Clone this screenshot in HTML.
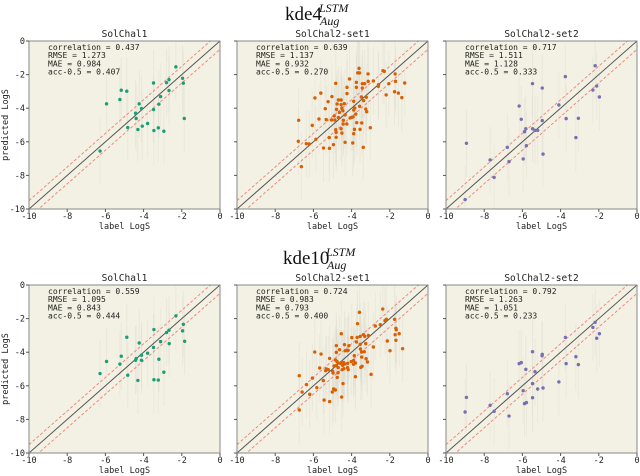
<!DOCTYPE html>
<html><head><meta charset="utf-8">
<style>
html,body{margin:0;padding:0;background:#fff;}
svg{display:block;}
.mono{font-family:"DejaVu Sans Mono","Liberation Mono",monospace;}
.serif{font-family:"Liberation Serif",serif;}
</style></head>
<body>
<svg id="chart" width="640" height="476" xmlns="http://www.w3.org/2000/svg">
  <g class="serif" fill="#111">
    <text x="285" y="20" font-size="19">kde4</text>
    <text x="319" y="12" font-size="12" font-style="italic">LSTM</text>
    <text x="320" y="25" font-size="12" font-style="italic">Aug</text>
  </g>
  <g class="serif" fill="#111">
    <text x="283" y="264" font-size="19">kde10</text>
    <text x="326" y="256" font-size="12" font-style="italic">LSTM</text>
    <text x="327" y="269" font-size="12" font-style="italic">Aug</text>
  </g>
</svg>
<script>
const panelTitles = ["SolChal1","SolChal2-set1","SolChal2-set2","SolChal1","SolChal2-set1","SolChal2-set2"];
const statCorrelation = ["0.437","0.639","0.717","0.559","0.724","0.792"];
const statRMSE = ["1.273","1.137","1.511","1.095","0.983","1.263"];
const statMAE = ["0.984","0.932","1.128","0.843","0.793","1.051"];
const statAcc = ["0.407","0.270","0.333","0.444","0.400","0.233"];
const tickValues = [-10,-8,-6,-4,-2,0];
const tickLabels = ["-10","-8","-6","-4","-2","0"];
const seriesColors = ["#1b9e77","#d95f02","#7570b3","#1b9e77","#d95f02","#7570b3"];

const kde4SolChal1 = [[-2.31,-1.54],[-2.67,-2.30],[-2.80,-2.48],[-1.96,-2.22],[-1.92,-2.51],[-3.48,-2.50],[-2.67,-2.95],[-3.11,-3.31],[-3.20,-3.76],[-3.48,-4.08],[-4.23,-3.74],[-4.11,-4.02],[-4.42,-4.30],[-4.39,-4.61],[-3.79,-4.91],[-4.07,-5.07],[-4.83,-5.15],[-4.30,-5.27],[-3.46,-5.33],[-3.23,-5.17],[-2.94,-5.37],[-5.17,-2.93],[-4.88,-2.99],[-5.24,-3.49],[-5.94,-3.74],[-1.87,-4.61],[-6.28,-6.55]];
const kde4Set1 = [[-3.61,-1.63],[-3.65,-1.90],[-3.68,-1.90],[-3.58,-1.90],[-3.14,-1.96],[-2.36,-1.77],[-2.29,-1.81],[-1.72,-1.96],[-4.11,-2.26],[-4.83,-2.52],[-3.75,-2.46],[-3.44,-2.54],[-3.32,-2.54],[-3.13,-2.40],[-2.86,-2.38],[-2.59,-2.60],[-2.05,-2.54],[-1.70,-2.40],[-1.22,-2.50],[-4.24,-2.76],[-3.75,-2.76],[-3.44,-2.80],[-2.60,-2.70],[-1.75,-3.02],[-1.55,-3.10],[-2.19,-3.21],[-1.37,-3.37],[-5.61,-3.10],[-5.92,-3.39],[-5.03,-3.31],[-4.24,-3.13],[-4.69,-3.51],[-4.55,-3.51],[-5.23,-3.61],[-4.38,-3.73],[-4.76,-3.75],[-4.55,-3.79],[-4.51,-3.99],[-3.89,-3.59],[-3.49,-3.33],[-3.23,-3.35],[-3.37,-3.55],[-5.38,-4.03],[-4.79,-4.07],[-4.46,-4.15],[-3.89,-4.11],[-3.84,-3.99],[-3.58,-3.89],[-3.26,-4.05],[-3.21,-4.21],[-4.91,-4.46],[-4.64,-4.25],[-4.69,-4.56],[-4.34,-4.40],[-4.08,-4.58],[-3.99,-4.54],[-3.92,-4.52],[-5.71,-4.64],[-5.33,-4.68],[-5.05,-4.70],[-4.88,-4.70],[-4.43,-4.72],[-3.78,-4.35],[-3.73,-4.86],[-3.47,-4.88],[-6.77,-4.72],[-6.06,-5.02],[-4.44,-4.94],[-4.25,-4.94],[-4.83,-5.28],[-4.55,-5.22],[-4.81,-5.44],[-4.51,-5.48],[-3.85,-5.26],[-3.89,-5.52],[-3.56,-5.26],[-3.02,-5.16],[-5.17,-5.75],[-4.81,-5.73],[-5.87,-5.85],[-6.37,-6.11],[-6.22,-6.13],[-4.95,-6.17],[-4.34,-6.03],[-3.94,-6.07],[-3.39,-6.33],[-5.47,-6.37],[-5.16,-6.39],[-6.79,-5.97],[-6.63,-7.48]];
const kde4Set2 = [[-2.19,-1.47],[-3.75,-2.12],[-5.47,-2.54],[-4.96,-2.80],[-2.31,-2.92],[-2.11,-2.68],[-1.97,-3.33],[-4.09,-3.81],[-6.17,-3.87],[-6.06,-4.66],[-4.96,-4.74],[-3.71,-4.62],[-3.07,-4.60],[-5.82,-5.22],[-5.89,-5.40],[-5.47,-5.22],[-5.34,-5.32],[-5.20,-5.32],[-3.20,-5.75],[-8.93,-6.09],[-6.79,-6.33],[-5.79,-6.23],[-5.96,-7.02],[-4.92,-6.73],[-7.69,-7.08],[-6.70,-7.18],[-7.48,-8.12],[-9.00,-9.44]];
const kde10SolChal1 = [[-2.31,-1.84],[-1.92,-2.34],[-1.96,-2.73],[-1.85,-3.35],[-2.67,-2.69],[-2.80,-2.83],[-2.66,-3.49],[-3.11,-3.37],[-3.46,-2.65],[-3.48,-3.72],[-3.79,-4.06],[-4.23,-3.45],[-4.11,-4.18],[-4.11,-4.48],[-4.39,-4.38],[-4.42,-4.48],[-3.20,-4.42],[-2.94,-5.19],[-3.46,-5.64],[-3.23,-5.66],[-4.30,-5.68],[-4.83,-5.37],[-4.88,-3.11],[-5.17,-4.24],[-5.24,-4.71],[-5.94,-4.55],[-6.28,-5.27]];
const kde10Set1 = [[-2.37,-1.43],[-3.59,-1.63],[-2.25,-2.12],[-2.18,-2.04],[-1.75,-2.04],[-2.50,-2.36],[-3.69,-2.30],[-1.68,-2.58],[-1.66,-2.66],[-2.76,-2.44],[-3.38,-2.96],[-3.31,-3.06],[-3.55,-3.06],[-3.12,-3.00],[-4.54,-2.90],[-3.99,-3.13],[-3.71,-3.12],[-3.74,-3.39],[-1.51,-2.90],[-1.72,-2.96],[-1.68,-3.29],[-2.13,-3.33],[-1.33,-3.79],[-1.99,-3.91],[-4.80,-3.61],[-4.37,-3.55],[-4.14,-3.61],[-4.23,-3.91],[-4.18,-3.89],[-3.55,-3.53],[-3.26,-3.49],[-2.86,-3.69],[-3.54,-3.81],[-3.48,-3.99],[-3.34,-3.97],[-5.93,-3.99],[-5.60,-4.11],[-4.80,-4.01],[-4.63,-3.85],[-4.33,-3.91],[-5.15,-4.37],[-4.85,-4.46],[-4.77,-4.54],[-4.71,-4.64],[-4.56,-4.68],[-4.42,-4.62],[-4.37,-4.70],[-4.21,-4.66],[-4.02,-4.56],[-3.90,-4.50],[-3.86,-4.21],[-3.80,-4.64],[-3.47,-4.29],[-3.24,-4.39],[-5.67,-4.94],[-5.36,-5.10],[-5.22,-5.04],[-4.99,-5.14],[-4.92,-4.82],[-4.80,-4.80],[-4.70,-4.92],[-4.47,-4.78],[-4.40,-4.98],[-4.21,-4.92],[-3.90,-4.72],[-3.52,-4.90],[-3.45,-4.84],[-3.17,-4.58],[-6.05,-5.54],[-5.32,-5.00],[-4.97,-5.24],[-4.71,-5.22],[-4.49,-5.04],[-4.18,-5.04],[-3.80,-5.46],[-2.98,-5.32],[-6.74,-5.40],[-5.48,-5.69],[-4.75,-5.50],[-6.36,-5.93],[-5.82,-6.11],[-5.01,-6.37],[-4.94,-6.19],[-4.85,-6.25],[-4.45,-5.87],[-6.59,-6.37],[-6.19,-6.51],[-5.44,-6.85],[-5.15,-6.94],[-4.52,-6.67],[-6.74,-7.44]];
const kde10Set2 = [[-2.19,-2.22],[-2.31,-2.52],[-2.11,-3.17],[-1.97,-2.90],[-3.75,-3.12],[-3.20,-4.27],[-3.71,-4.68],[-3.07,-4.74],[-5.47,-3.97],[-4.96,-4.13],[-4.97,-4.21],[-6.17,-4.68],[-6.06,-4.62],[-5.82,-5.02],[-5.34,-5.16],[-5.47,-5.87],[-5.20,-6.19],[-4.92,-6.13],[-4.09,-5.77],[-5.96,-6.29],[-6.79,-6.47],[-5.89,-7.06],[-5.79,-7.00],[-5.47,-6.71],[-8.93,-6.69],[-9.00,-7.56],[-7.69,-7.16],[-7.48,-7.52],[-6.70,-7.80]];
const panelData = [kde4SolChal1,kde4Set1,kde4Set2,kde10SolChal1,kde10Set1,kde10Set2];

const NS = "http://www.w3.org/2000/svg";
const svg = document.getElementById("chart");
const colX = [29,237,446], rowY = [41,285], PW = 191, PH = 168;
function mk(tag, attrs, parent){ const e=document.createElementNS(NS,tag); for(const k in attrs) e.setAttribute(k,attrs[k]); parent.appendChild(e); return e; }

for (let p=0;p<6;p++){
  const r=Math.floor(p/3), c=p%3, x0=colX[c], y0=rowY[r];
  const sx = v => x0 + (v+10)/10*PW;
  const sy = v => y0 + (-v)/10*PH;
  const g = mk("g",{},svg);
  
  
  const bg = mk("rect",{x:x0,y:y0,width:PW,height:PH,fill:"#f3f1e3"},g);
  
  
  const data = panelData[p];
  const eg = mk("g",{},g);
  
  
  data.forEach(d=>{
    const lo=Math.max(-10,d[1]-2), hi=Math.min(0,d[1]+2);
    mk("line",{x1:sx(d[0]),x2:sx(d[0]),y1:sy(lo),y2:sy(hi),stroke:"#c8c8bc","stroke-opacity":0.2,"stroke-width":1},eg);
  });
  const cid="clip"+p;
  const cp = mk("clipPath",{id:cid},g); mk("rect",{x:x0,y:y0,width:PW,height:PH},cp);
  const lg = mk("g",{"clip-path":"url(#"+cid+")"},g);
  [0.5,-0.5].forEach(o=>{
    const l = mk("line",{x1:sx(-10),y1:sy(-10+o),x2:sx(0),y2:sy(0+o),stroke:"#f08a80","stroke-width":1,"stroke-dasharray":"3,2"},lg);
    
    
  });
  const dl = mk("line",{x1:sx(-10),y1:sy(-10),x2:sx(0),y2:sy(0),stroke:"#555","stroke-width":1},lg);
  
  
  data.forEach(d=>{
    const pt = mk("circle",{cx:sx(d[0]),cy:sy(d[1]),r:1.7,fill:seriesColors[p]},g);
    
    
  });
  const fr = mk("rect",{x:x0,y:y0,width:PW,height:PH,fill:"none",stroke:"#888","stroke-width":1},g);
  
  
  tickValues.forEach((v,i)=>{
    mk("line",{x1:sx(v),x2:sx(v),y1:y0+PH,y2:y0+PH+3,stroke:"#555"},g);
    const t = mk("text",{x:sx(v),y:y0+PH+10,"font-size":8.5,"text-anchor":"middle",class:"mono",fill:"#222"},g);
    t.textContent = tickLabels[i];
    
    
    mk("line",{x1:x0-3,x2:x0,y1:sy(v),y2:sy(v),stroke:"#555"},g);
    if (c===0){
      const ty = mk("text",{x:x0-4,y:sy(v)+3,"font-size":8.5,"text-anchor":"end",class:"mono",fill:"#222"},g);
      ty.textContent = tickLabels[i];
      
      
    }
  });
  const xl = mk("text",{x:x0+PW/2,y:y0+PH+20,"font-size":8.5,"text-anchor":"middle",class:"mono",fill:"#222"},g);
  xl.textContent="label LogS";
  
  
  if (c===0){
    const yl = mk("text",{x:0,y:0,"font-size":8.5,"text-anchor":"middle",class:"mono",fill:"#222",transform:"translate(8,"+(y0+PH/2)+") rotate(-90)"},g);
    yl.textContent="predicted LogS";
    
    
  }
  const tt = mk("text",{x:x0+PW/2,y:y0-4,"font-size":9.5,"text-anchor":"middle",class:"mono",fill:"#222"},g);
  tt.textContent=panelTitles[p];
  
  
  const lines=["correlation = "+statCorrelation[p],"RMSE = "+statRMSE[p],"MAE = "+statMAE[p],"acc-0.5 = "+statAcc[p]];
  lines.forEach((s,i)=>{
    const st = mk("text",{x:x0+19,y:y0+9+i*8.2,"font-size":8,class:"mono",fill:"#222"},g);
    st.textContent=s;
    
    
  });
}
</script>
</body></html>
